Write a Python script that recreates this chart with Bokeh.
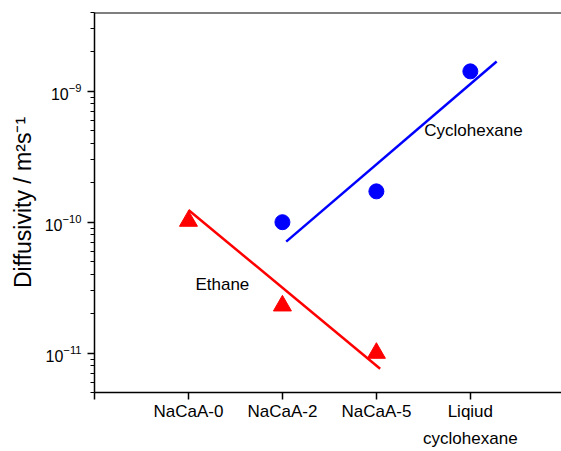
from bokeh.plotting import figure
from bokeh.models import Range1d, FixedTicker, LogTickFormatter, Span
from bokeh.core.properties import value
from bokeh.embed import file_html
from bokeh.resources import INLINE

# ---- data ----
categories = ["NaCaA-0", "NaCaA-2", "NaCaA-5", "Liqiud\ncyclohexane"]
cat_pos = [1, 2, 3, 4]

ethane_x = [1, 2, 3]
ethane_d = [1.02e-10, 2.3e-11, 1.0e-11]

cyclo_x = [2, 3, 4]
cyclo_d = [1.0e-10, 1.72e-10, 1.42e-9]

# fitted trend lines (end points)
ethane_fit_x = [1.0, 3.04]
ethane_fit_d = [1.24e-10, 7.6e-12]
cyclo_fit_x = [2.04, 4.28]
cyclo_fit_d = [7.1e-11, 1.69e-9]

y_lo, y_hi = 5e-12, 4e-9
major_y = [1e-11, 1e-10, 1e-9]
minor_y = [k * 10.0**e for e in (-12, -11, -10, -9) for k in range(2, 10)]

FONT = "Liberation Sans"

p = figure(width=561, height=451, y_axis_type="log",
           x_range=Range1d(0, 4.97), y_range=Range1d(y_lo, y_hi),
           output_backend="svg", toolbar_location=None,
           min_border_left=94, min_border_right=0,
           min_border_top=12, min_border_bottom=57)
p.outline_line_color = None
p.grid.visible = False
p.background_fill_color = "white"

# lines
p.line(ethane_fit_x, ethane_fit_d, line_color="#ff0000", line_width=2.5)
p.line(cyclo_fit_x, cyclo_fit_d, line_color="#0000ff", line_width=2.5)

# points
p.scatter(ethane_x, ethane_d, marker="triangle", size=18,
          fill_color="#ff0000", line_color="#ff0000")
p.scatter(cyclo_x, cyclo_d, marker="circle", size=15,
          fill_color="#0000ff", line_color="#0000ff")

# labels
p.text(x=[1.074], y=[3.32e-11], text=["Ethane"], text_font=value(FONT),
       text_font_size="17px", text_baseline="middle", text_align="left",
       text_color="black")
p.text(x=[3.51], y=[5.05e-10], text=["Cyclohexane"], text_font=value(FONT),
       text_font_size="17px", text_baseline="middle", text_align="left",
       text_color="black")

# x axis
xa = p.xaxis[0]
xa.ticker = FixedTicker(ticks=[0] + cat_pos, minor_ticks=[])
xa.major_label_overrides = {0: ""} | {pos: lab for pos, lab in zip(cat_pos, categories)}
xa.major_tick_in = 0
xa.major_tick_out = 7
xa.minor_tick_out = 0
xa.axis_line_width = 1.5
xa.axis_line_color = "black"
xa.major_tick_line_width = 1.5
xa.major_tick_line_color = "black"
xa.major_label_text_font = FONT
xa.major_label_text_font_size = "17px"
xa.major_label_text_color = "black"
xa.major_label_text_line_height = 1.45
xa.major_label_standoff = 2

# y axis
ya = p.yaxis[0]
ya.ticker = FixedTicker(ticks=major_y, minor_ticks=minor_y)
ya.formatter = LogTickFormatter()
ya.major_tick_in = 0
ya.major_tick_out = 7
ya.minor_tick_in = 0
ya.minor_tick_out = 4
ya.axis_line_width = 1.5
ya.axis_line_color = "black"
ya.major_tick_line_width = 1.5
ya.major_tick_line_color = "black"
ya.minor_tick_line_width = 1.2
ya.minor_tick_line_color = "black"
ya.major_label_text_font = FONT
ya.major_label_text_font_size = "16px"
ya.major_label_text_color = "black"
ya.major_label_standoff = 6
ya.axis_label = "Diffusivity / m²s⁻¹"
ya.axis_label_text_font = FONT
ya.axis_label_text_font_size = "23px"
ya.axis_label_text_font_style = "normal"
ya.axis_label_text_color = "black"
ya.axis_label_standoff = 6

# top frame line
p.add_layout(Span(location=y_hi, dimension="width", line_color="black", line_width=2))

open("out.html", "w").write(file_html(p, INLINE))
